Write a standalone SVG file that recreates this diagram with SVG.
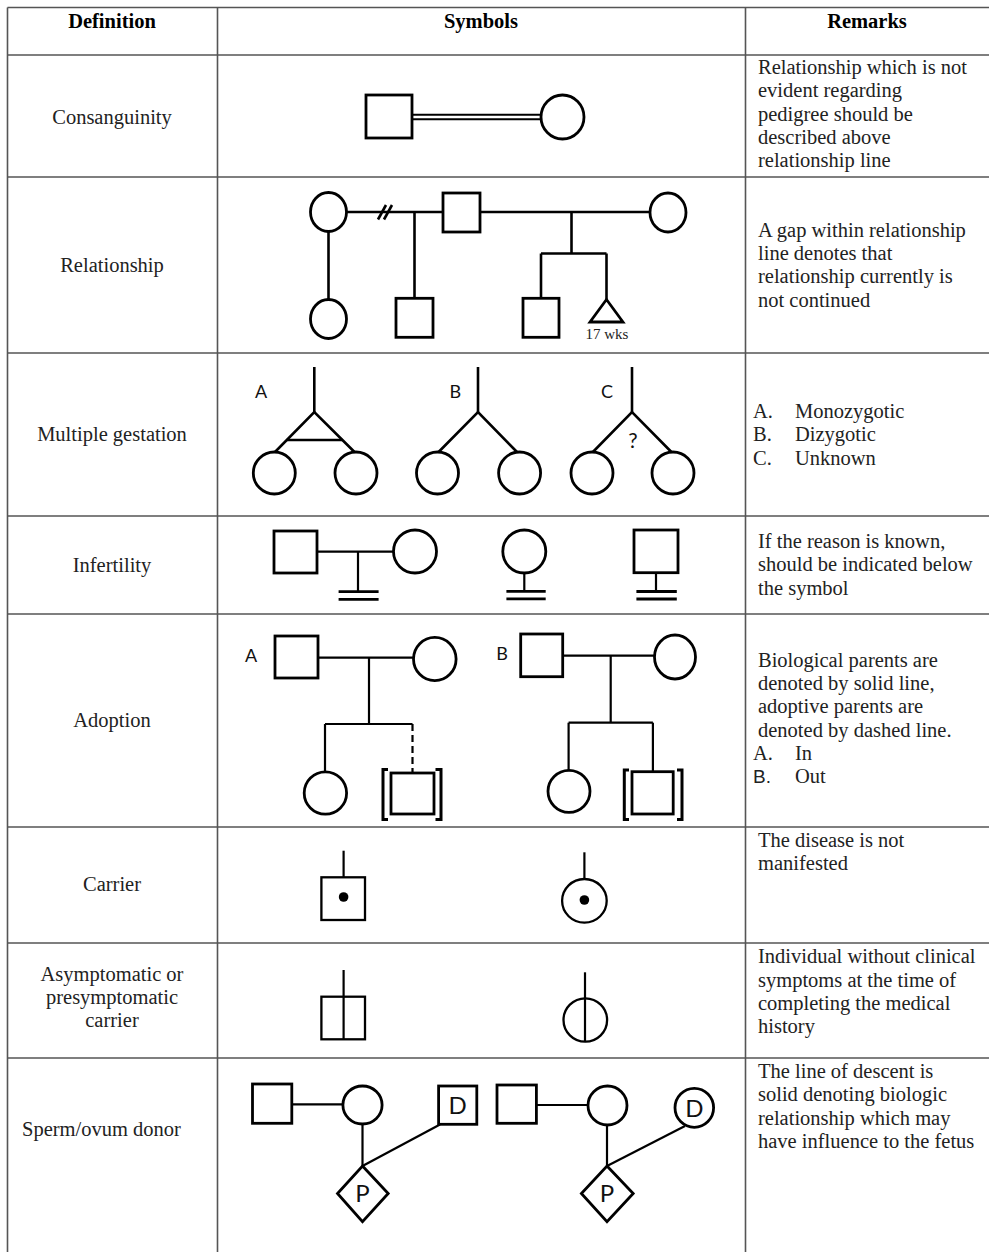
<svg xmlns="http://www.w3.org/2000/svg" width="989" height="1252" viewBox="0 0 989 1252">
<style>
.grid{stroke:#555;stroke-width:1.6;fill:none}
.t{font-family:"Liberation Serif","Times New Roman",serif;font-size:20.5px;fill:#222}
.c{text-anchor:middle}
.h{font-weight:bold;fill:#000}
.sn{font-family:"Lato","Liberation Sans",Arial,sans-serif;fill:#111}
.lbl{font-size:18px;text-anchor:middle}
.pd{font-size:24px;text-anchor:middle}
.sh{fill:#fff;stroke:#000;stroke-width:2.8}
.ln{stroke:#000;stroke-width:2.6;fill:none}
.thin{stroke:#000;stroke-width:2.2;fill:none}
.bar{stroke:#000;stroke-width:2.8;fill:none}
.dot{fill:#000}
</style>
<rect width="989" height="1252" fill="#fff"/>
<g id="table">
<line class="grid" x1="7.5" y1="7.5" x2="989" y2="7.5"/>
<line class="grid" x1="7.5" y1="7.5" x2="7.5" y2="1252"/>
<line class="grid" x1="217.5" y1="7.5" x2="217.5" y2="1252"/>
<line class="grid" x1="745.5" y1="7.5" x2="745.5" y2="1252"/>
<line class="grid" x1="7.5" y1="55" x2="989" y2="55"/>
<line class="grid" x1="7.5" y1="177" x2="989" y2="177"/>
<line class="grid" x1="7.5" y1="353" x2="989" y2="353"/>
<line class="grid" x1="7.5" y1="516" x2="989" y2="516"/>
<line class="grid" x1="7.5" y1="614" x2="989" y2="614"/>
<line class="grid" x1="7.5" y1="827" x2="989" y2="827"/>
<line class="grid" x1="7.5" y1="943" x2="989" y2="943"/>
<line class="grid" x1="7.5" y1="1058" x2="989" y2="1058"/>
</g>
<g id="headers">
<text class="t c h" x="112" y="28">Definition</text>
<text class="t c h" x="481" y="28">Symbols</text>
<text class="t c h" x="867" y="28">Remarks</text>
</g>
<g id="definitions">
<text class="t c" x="112" y="124">Consanguinity</text>
<text class="t c" x="112" y="272">Relationship</text>
<text class="t c" x="112" y="441">Multiple gestation</text>
<text class="t c" x="112" y="572">Infertility</text>
<text class="t c" x="112" y="727">Adoption</text>
<text class="t c" x="112" y="891">Carrier</text>
<text class="t c" x="112" y="981">Asymptomatic or</text>
<text class="t c" x="112" y="1004">presymptomatic</text>
<text class="t c" x="112" y="1027">carrier</text>
<text class="t" x="22" y="1136">Sperm/ovum donor</text>
</g>
<g id="remarks">
<text class="t" x="758" y="74">Relationship which is not</text>
<text class="t" x="758" y="97.3">evident regarding</text>
<text class="t" x="758" y="120.7">pedigree should be</text>
<text class="t" x="758" y="144">described above</text>
<text class="t" x="758" y="167.3">relationship line</text>
<text class="t" x="758" y="236.7">A gap within relationship</text>
<text class="t" x="758" y="260">line denotes that</text>
<text class="t" x="758" y="283.3">relationship currently is</text>
<text class="t" x="758" y="306.7">not continued</text>
<text class="t" x="753" y="418">A.</text><text class="t" x="795" y="418">Monozygotic</text>
<text class="t" x="753" y="441.3">B.</text><text class="t" x="795" y="441.3">Dizygotic</text>
<text class="t" x="753" y="464.7">C.</text><text class="t" x="795" y="464.7">Unknown</text>
<text class="t" x="758" y="548">If the reason is known,</text>
<text class="t" x="758" y="571.3">should be indicated below</text>
<text class="t" x="758" y="594.7">the symbol</text>
<text class="t" x="758" y="666.7">Biological parents are</text>
<text class="t" x="758" y="690">denoted by solid line,</text>
<text class="t" x="758" y="713.3">adoptive parents are</text>
<text class="t" x="758" y="736.7">denoted by dashed line.</text>
<text class="t" x="753" y="760">A.</text><text class="t" x="795" y="760">In</text>
<text class="t" x="753" y="783.3" style="font-family:'Liberation Sans',Arial,sans-serif;font-size:19px">B.</text><text class="t" x="795" y="783.3">Out</text>
<text class="t" x="758" y="846.7">The disease is not</text>
<text class="t" x="758" y="870">manifested</text>
<text class="t" x="758" y="963.3">Individual without clinical</text>
<text class="t" x="758" y="986.7">symptoms at the time of</text>
<text class="t" x="758" y="1010">completing the medical</text>
<text class="t" x="758" y="1033.3">history</text>
<text class="t" x="758" y="1078">The line of descent is</text>
<text class="t" x="758" y="1101.3">solid denoting biologic</text>
<text class="t" x="758" y="1124.7">relationship which may</text>
<text class="t" x="758" y="1148">have influence to the fetus</text>
</g>
<g id="connectors">
<line class="thin" style="stroke-width:2" x1="412" y1="114.8" x2="541" y2="114.8"/>
<line class="thin" style="stroke-width:2" x1="412" y1="119.3" x2="541" y2="119.3"/>
<line class="ln" x1="346.5" y1="212" x2="443" y2="212"/>
<line class="ln" x1="378" y1="219.5" x2="386" y2="205"/>
<line class="ln" x1="384" y1="219.5" x2="392" y2="205"/>
<line class="ln" x1="480" y1="212" x2="650" y2="212"/>
<line class="ln" x1="414.5" y1="212" x2="414.5" y2="298.3"/>
<line class="ln" x1="328.5" y1="231.5" x2="328.5" y2="299.5"/>
<line class="ln" x1="571.5" y1="212" x2="571.5" y2="253.5"/>
<line class="ln" x1="541" y1="253.5" x2="606.5" y2="253.5"/>
<line class="ln" x1="541" y1="253.5" x2="541" y2="298.3"/>
<line class="ln" x1="606.5" y1="253.5" x2="606.5" y2="299.5"/>
<line class="ln" x1="314.3" y1="367" x2="314.3" y2="412"/>
<polyline class="ln" points="275,452 314.3,412 354.5,452"/>
<line class="ln" x1="286.8" y1="440" x2="342.4" y2="440"/>
<line class="ln" x1="478" y1="367" x2="478" y2="412"/>
<polyline class="ln" points="438.6,452 478,412 517,452"/>
<line class="ln" x1="632" y1="367" x2="632" y2="412"/>
<polyline class="ln" points="592.9,452 632,412 671.4,452"/>
<line class="thin" x1="317" y1="551.7" x2="393.6" y2="551.7"/>
<line class="thin" x1="358" y1="551.7" x2="358" y2="591.7"/>
<line class="bar" x1="338.6" y1="591.7" x2="378.6" y2="591.7"/>
<line class="bar" x1="338.6" y1="599.3" x2="378.6" y2="599.3"/>
<line class="thin" x1="524.3" y1="573" x2="524.3" y2="591.3"/>
<line class="bar" x1="506.4" y1="591.3" x2="545.7" y2="591.3"/>
<line class="bar" x1="506.4" y1="598.8" x2="545.7" y2="598.8"/>
<line class="thin" x1="656" y1="572.7" x2="656" y2="591.5"/>
<line class="bar" x1="636.4" y1="591.5" x2="676.8" y2="591.5"/>
<line class="bar" x1="636.4" y1="599" x2="676.8" y2="599"/>
<line class="thin" x1="318" y1="657.7" x2="413.6" y2="657.7"/>
<line class="thin" x1="369" y1="657.7" x2="369" y2="724"/>
<line class="thin" x1="325" y1="724" x2="412.5" y2="724"/>
<line class="thin" x1="325" y1="724" x2="325" y2="771.7"/>
<line class="thin" x1="412.5" y1="724" x2="412.5" y2="773" stroke-dasharray="7 4"/>
<line class="thin" x1="562.5" y1="655.7" x2="654.6" y2="655.7"/>
<line class="thin" x1="610.7" y1="655.7" x2="610.7" y2="722.7"/>
<line class="thin" x1="568.6" y1="722.7" x2="652.9" y2="722.7"/>
<line class="thin" x1="568.6" y1="722.7" x2="568.6" y2="770.3"/>
<line class="thin" x1="652.9" y1="722.7" x2="652.9" y2="771.7"/>
<line class="thin" x1="343.6" y1="850.7" x2="343.6" y2="877.3"/>
<line class="thin" x1="584.4" y1="852.3" x2="584.4" y2="879"/>
<line class="thin" x1="291.8" y1="1104.3" x2="342.9" y2="1104.3"/>
<line class="thin" x1="362.5" y1="1124" x2="362.5" y2="1166"/>
<line class="thin" x1="362.5" y1="1166" x2="440" y2="1124.5"/>
<line class="thin" x1="536.4" y1="1105" x2="588.2" y2="1105"/>
<line class="thin" x1="607" y1="1125" x2="607" y2="1166"/>
<line class="thin" x1="607" y1="1166" x2="685" y2="1126"/>
</g>
<g id="consanguinity">
<rect id="cons-male" class="sh" x="366" y="95" width="46" height="43"/>
<ellipse id="cons-female" class="sh" cx="562.5" cy="117" rx="21.5" ry="22"/>
</g>
<g id="relationship">
<ellipse id="rel-f1" class="sh" cx="328.5" cy="212" rx="18" ry="19.5"/>
<rect id="rel-m1" class="sh" x="443" y="193" width="37" height="39"/>
<ellipse id="rel-f2" class="sh" cx="668" cy="212.5" rx="18" ry="19.5"/>
<ellipse id="rel-c1" class="sh" cx="328.5" cy="319" rx="18" ry="19.5"/>
<rect id="rel-c2" class="sh" x="396" y="298.3" width="37" height="39"/>
<rect id="rel-c3" class="sh" x="523" y="298.3" width="36" height="39"/>
<polygon id="rel-c4" class="sh" points="606.5,299.5 590,322 623,322"/>
<text class="t c" x="607" y="338.5" style="font-size:15px">17 wks</text>
</g>
<g id="multiple-gestation">
<text class="sn lbl" x="261" y="398">A</text>
<circle class="sh" cx="274.3" cy="473" r="21"/>
<circle class="sh" cx="356" cy="473" r="21"/>
<text class="sn lbl" x="455.4" y="398">B</text>
<circle class="sh" cx="437.5" cy="473" r="21"/>
<circle class="sh" cx="519.6" cy="473" r="21"/>
<text class="sn lbl" x="607" y="398">C</text>
<circle class="sh" cx="592" cy="473" r="21"/>
<circle class="sh" cx="673" cy="473" r="21"/>
<text class="sn" x="633" y="448" style="font-size:21px;text-anchor:middle">?</text>
</g>
<g id="infertility">
<rect class="sh" x="274" y="531" width="43" height="42"/>
<circle class="sh" cx="415" cy="551.5" r="21.5"/>
<circle class="sh" cx="524.3" cy="551.5" r="21.5"/>
<rect class="sh" x="634" y="530" width="44" height="42.7"/>
</g>
<g id="adoption">
<text class="sn lbl" x="251" y="662">A</text>
<rect class="sh" x="275" y="636" width="43" height="42"/>
<ellipse class="sh" cx="434.8" cy="659" rx="21.3" ry="21.7"/>
<circle class="sh" cx="325.4" cy="793" r="21.2"/>
<rect class="sh" x="391" y="773" width="43" height="41"/>
<path class="ln" style="stroke-width:3" d="M388,769.5 H383 V819.5 H388 M435.5,769.5 H441 V819.5 H435.5"/>
<text class="sn lbl" x="502" y="660">B</text>
<rect class="sh" x="520.7" y="634" width="42" height="42.7"/>
<ellipse class="sh" cx="675" cy="657" rx="20.5" ry="22"/>
<circle class="sh" cx="569" cy="791.3" r="21"/>
<rect class="sh" x="632" y="771.7" width="41.2" height="42.3"/>
<path class="ln" style="stroke-width:3" d="M629,770 H624.3 V819.5 H629 M677,770 H682 V819.5 H677"/>
</g>
<g id="carrier">
<rect class="sh" style="stroke-width:2.3" x="321.4" y="877.3" width="43.6" height="42.7"/>
<circle class="dot" cx="343.6" cy="897" r="4.8"/>
<ellipse class="sh" style="stroke-width:2.3" cx="584.4" cy="900.8" rx="22.3" ry="21.8"/>
<circle class="dot" cx="584.4" cy="900" r="4.8"/>
</g>
<g id="asymptomatic">
<rect class="sh" style="stroke-width:2.3" x="321.4" y="996.7" width="43.6" height="42.6"/>
<line class="thin" x1="343.6" y1="970" x2="343.6" y2="1039.3"/>
<ellipse class="sh" style="stroke-width:2.3" cx="585.3" cy="1020" rx="21.8" ry="21.7"/>
<line class="thin" x1="585" y1="972.3" x2="585" y2="1041.7"/>
</g>
<g id="donor">
<rect class="sh" x="252.5" y="1084" width="39.3" height="39.3"/>
<ellipse class="sh" cx="362.5" cy="1105" rx="19.6" ry="19"/>
<polygon class="sh" points="362.5,1166 388.2,1193.5 362.5,1221.7 337.5,1193.5"/>
<text class="sn pd" x="362.5" y="1202">P</text>
<rect class="sh" x="438.6" y="1086" width="38.2" height="38.3"/>
<text class="sn pd" x="457.7" y="1114">D</text>
<rect class="sh" x="497" y="1085" width="39.4" height="38.3"/>
<ellipse class="sh" cx="607.5" cy="1105.5" rx="19.5" ry="19.5"/>
<polygon class="sh" points="607,1166 633.2,1193.5 607,1221.7 581.4,1193.5"/>
<text class="sn pd" x="607" y="1202">P</text>
<ellipse class="sh" cx="694.3" cy="1107.8" rx="19.3" ry="19.5"/>
<text class="sn pd" x="694.3" y="1116.5">D</text>
</g>
</svg>
